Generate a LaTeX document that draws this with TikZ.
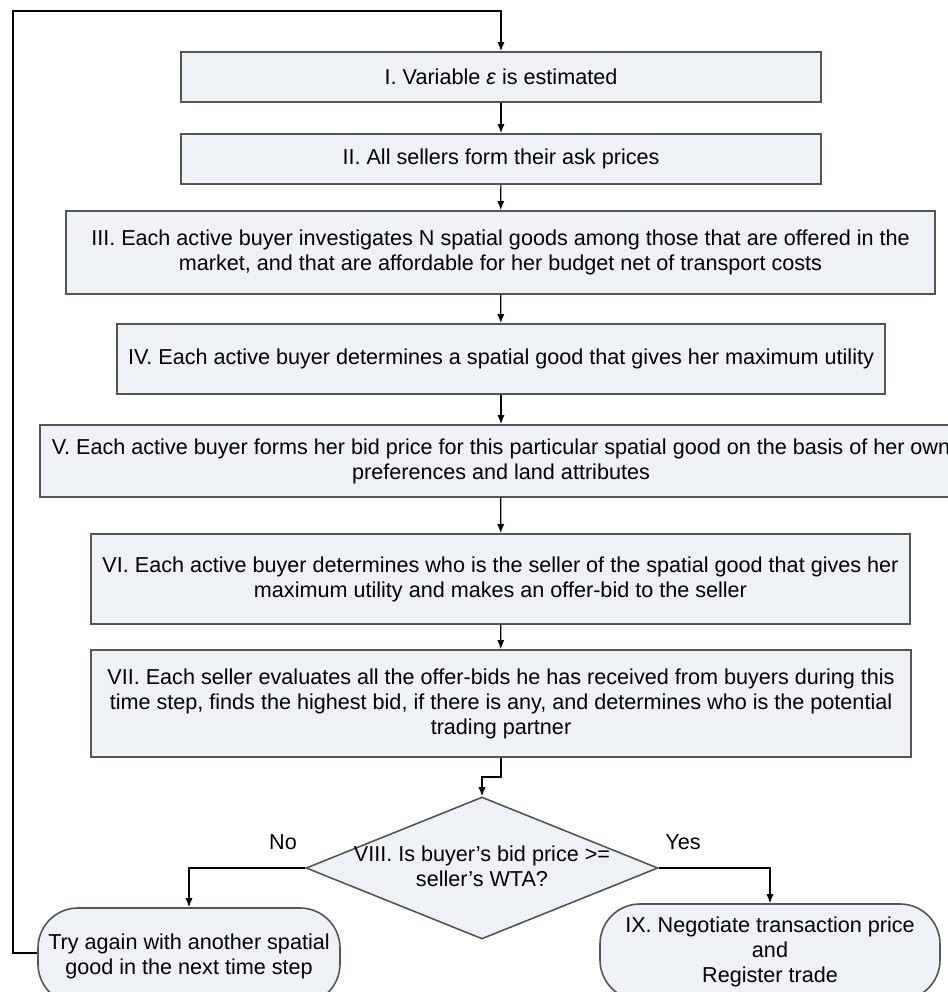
\documentclass[tikz,border=0pt]{standalone}
\usepackage{fontspec}
\setmainfont{Liberation Sans}
\usetikzlibrary{shapes.geometric,arrows.meta}
\definecolor{boxfill}{HTML}{EEF1F6}
\definecolor{boxline}{HTML}{555555}
\tikzset{
  stepbox/.style={draw=boxline, line width=0.9pt, fill=boxfill, align=center, inner sep=0pt, font=\fontsize{10.8}{12.5}\selectfont},
  decide/.style={draw=boxline, line width=0.8pt, fill=boxfill, shape=diamond, inner sep=0pt},
  term/.style={draw=boxline, line width=0.8pt, fill=boxfill, rounded corners=20pt, align=center, inner sep=0pt, font=\fontsize{10.8}{12.5}\selectfont},
  lbl/.style={font=\fontsize{10.8}{12.5}\selectfont, align=center, inner sep=0pt},
  arr/.style={draw=black, line width=0.6pt, -{Latex[length=4.5pt,width=3.6pt]}},
}
\begin{document}
\begin{tikzpicture}[x=0.5pt,y=-0.5pt]
\useasboundingbox (0,0) rectangle (948,992);
\fill[white] (0,0) rectangle (948,992);

\node[stepbox, minimum width=640*0.5pt, minimum height=50*0.5pt] (b1) at (501,77) {I. Variable \textit{ε} is estimated};
\node[stepbox, minimum width=640*0.5pt, minimum height=50*0.5pt] (b2) at (501,159) {II. All sellers form their ask prices};
\node[stepbox, minimum width=869*0.5pt, minimum height=83*0.5pt] (b3) at (500.5,252.5) {III. Each active buyer investigates N spatial goods among those that are offered in the\\market, and that are affordable for her budget net of transport costs};
\node[stepbox, minimum width=768*0.5pt, minimum height=70*0.5pt] (b4) at (501,359) {IV. Each active buyer determines a spatial good that gives her maximum utility};
\node[stepbox, minimum width=922*0.5pt, minimum height=72*0.5pt] (b5) at (501,461) {V. Each active buyer forms her bid price for this particular spatial good on the basis of her own\\preferences and land attributes};
\node[stepbox, minimum width=819*0.5pt, minimum height=90*0.5pt] (b6) at (500.5,579) {VI. Each active buyer determines who is the seller of the spatial good that gives her\\maximum utility and makes an offer-bid to the seller};
\node[stepbox, minimum width=820*0.5pt, minimum height=107*0.5pt] (b7) at (501,703.5) {VII. Each seller evaluates all the offer-bids he has received from buyers during this\\time step, finds the highest bid, if there is any, and determines who is the potential\\trading partner};

\node[decide, minimum width=352*0.5pt, minimum height=142*0.5pt] (d8) at (482,868) {};
\node[lbl] (d8t) at (482,866) {VIII. Is buyer’s bid price >=\\seller’s WTA?};

\node[term, minimum width=302*0.5pt, minimum height=96*0.5pt] (t1) at (189,956) {Try again with another spatial\\good in the next time step};
\node[term, minimum width=340*0.5pt, minimum height=96*0.5pt] (t2) at (770,952) {IX. Negotiate transaction price\\and\\Register trade};

\node[lbl] (no) at (283,842) {No};
\node[lbl] (yes) at (683,842) {Yes};

\coordinate (loopBL) at (13,953);
\coordinate (loopTL) at (13,11);

\draw[arr] (b1) -- (b2);
\draw[arr] (b2) -- (b3);
\draw[arr] (b3) -- (b4);
\draw[arr] (b4) -- (b5);
\draw[arr] (b5) -- (b6);
\draw[arr] (b6) -- (b7);
\draw[arr] (b7.south) -- ++(0,19) -| (d8.north);
\draw[arr] (d8.west) -| (t1.north);
\draw[arr] (d8.east) -| (t2.north);
\draw[arr] (t1.west |- loopBL) -- (loopBL) -- (loopTL) -| (b1.north);
\end{tikzpicture}
\end{document}
